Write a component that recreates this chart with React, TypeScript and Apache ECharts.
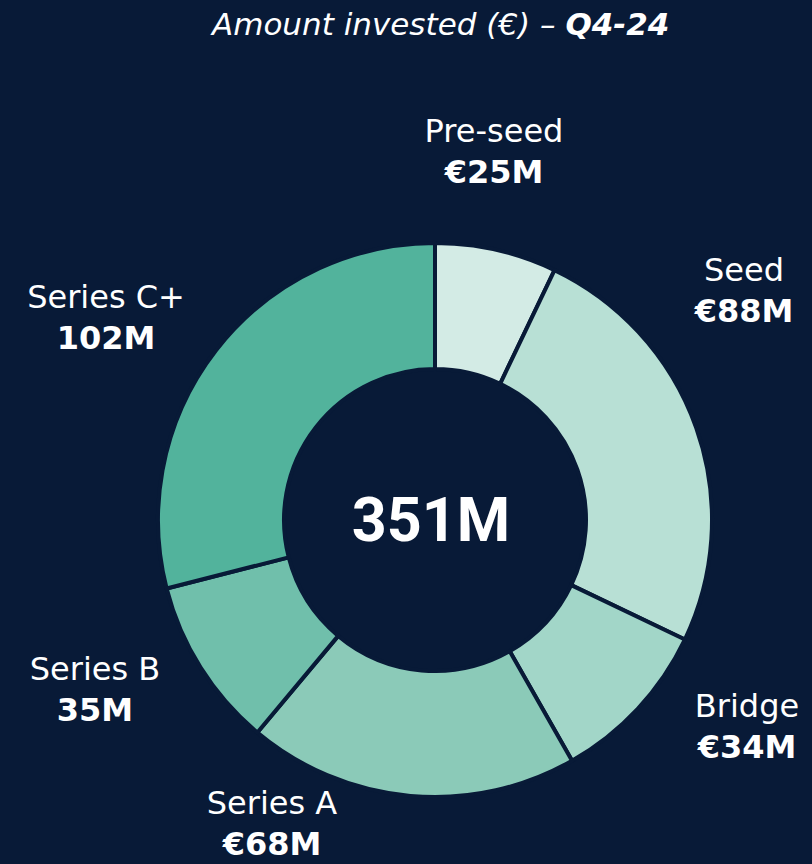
import React, { useEffect, useRef } from "react";
import * as echarts from "echarts";

const categories = ["Pre-seed", "Seed", "Bridge", "Series A", "Series B", "Series C+"];
const values = [25, 88, 34, 68, 35, 102];
const valueLabels = ["€25M", "€88M", "€34M", "€68M", "35M", "102M"];
const totalLabel = "351M";
const titleMain = "Amount invested (€) – ";
const titleBold = "Q4-24";

const BG = "#081a37";
const colors = ["#d3ebe5", "#b8e0d5", "#a2d6c8", "#8bcab8", "#70bfab", "#52b39c"];
// label anchor positions (px) – layout only
const labelAnchors: [number, number][] = [
  [494, 151],
  [744, 290],
  [747, 726],
  [272, 823],
  [95, 689],
  [106, 317],
];

export default function App() {
  const ref = useRef<HTMLDivElement>(null);
  useEffect(() => {
    if (!ref.current) return;
    const chart = echarts.init(ref.current, undefined, { renderer: "svg" });
    chart.setOption({
      animation: false,
      backgroundColor: BG,
      title: {
        text: `{i|${titleMain}}{b|${titleBold}}`,
        left: 207,
        top: 3,
        textStyle: {
          rich: {
            i: { fontFamily: "DejaVu Sans", fontStyle: "italic", fontSize: 31, color: "#ffffff", fontWeight: "normal" },
            b: { fontFamily: "DejaVu Sans", fontStyle: "italic", fontSize: 31, color: "#ffffff", fontWeight: "bold" },
          },
        },
      },
      graphic: [
        {
          type: "text",
          x: 431,
          y: 520,
          style: {
            text: totalLabel,
            fill: "#ffffff",
            font: "bold 61px Roboto",
            textAlign: "center",
            textVerticalAlign: "middle",
          },
        },
      ],
      series: [
        {
          type: "pie",
          center: [435, 520],
          radius: [151, 277],
          startAngle: 90,
          clockwise: true,
          avoidLabelOverlap: false,
          itemStyle: { borderColor: BG, borderWidth: 4 },
          labelLine: { show: false },
          label: {
            show: true,
            position: "outside",
            formatter: (p: any) => `{n|${p.name}}\n{v|${valueLabels[p.dataIndex]}}`,
            rich: {
              n: { fontFamily: "DejaVu Sans", fontSize: 32, color: "#ffffff", lineHeight: 42, align: "center" },
              v: { fontFamily: "DejaVu Sans", fontSize: 32, fontWeight: "bold", color: "#ffffff", lineHeight: 40, align: "center" },
            },
          },
          labelLayout: (p: any) => {
            const a = labelAnchors[p.dataIndex];
            return { x: a[0], y: a[1], align: "center", verticalAlign: "middle" };
          },
          emphasis: { disabled: true },
          data: categories.map((c, i) => ({
            name: c,
            value: values[i],
            itemStyle: { color: colors[i] },
          })),
        },
      ],
    });
    return () => chart.dispose();
  }, []);
  return (
    <div
      ref={ref}
      style={{ position: "fixed", left: 0, top: 0, width: 812, height: 864 }}
    />
  );
}
